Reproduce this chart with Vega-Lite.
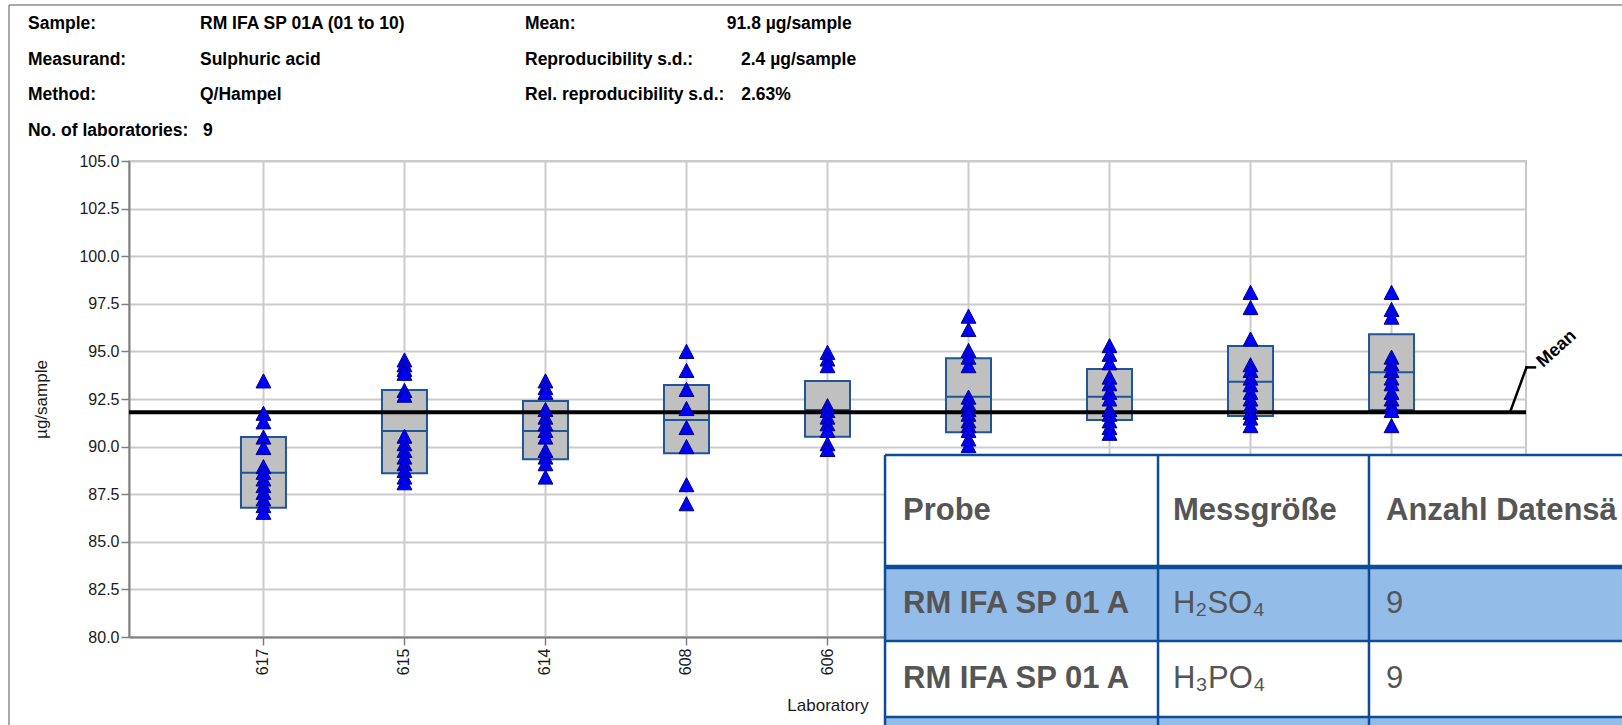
{
  "$schema": "https://vega.github.io/schema/vega-lite/v6.json",
  "usermeta": {"embedOptions": {"actions": false}},
  "width": 1397,
  "height": 476,
  "autosize": {"type": "none"},
  "padding": {"left": 129, "top": 161, "right": 96, "bottom": 88},
  "background": "#ffffff",
  "config": {
    "font": "Liberation Sans",
    "view": {"stroke": "#c8c8c8", "strokeWidth": 2},
    "axis": {
      "zindex": 0,
      "domainColor": "#7f7f7f", "domainWidth": 2,
      "tickColor": "#7f7f7f", "tickWidth": 1.5, "tickSize": 8,
      "gridColor": "#cccccc", "gridWidth": 2,
      "labelColor": "#1a1a1a", "labelFont": "Liberation Sans", "labelFontSize": 16,
      "titleFont": "Liberation Sans", "titleFontSize": 17, "titleFontWeight": "normal", "titleColor": "#1a1a1a"
    }
  },
  "datasets": {
    "boxes": [
      {"lab": "617", "q1": 86.79, "med": 88.63, "q3": 90.5},
      {"lab": "615", "q1": 88.6, "med": 90.82, "q3": 92.97},
      {"lab": "614", "q1": 89.33, "med": 90.82, "q3": 92.39},
      {"lab": "608", "q1": 89.65, "med": 91.4, "q3": 93.24},
      {"lab": "606", "q1": 90.52, "med": 91.92, "q3": 93.45},
      {"lab": "605", "q1": 90.75, "med": 92.62, "q3": 94.64},
      {"lab": "604", "q1": 91.4, "med": 92.62, "q3": 94.08},
      {"lab": "603", "q1": 91.61, "med": 93.41, "q3": 95.28},
      {"lab": "601", "q1": 91.92, "med": 93.9, "q3": 95.9}
    ],
    "points": [
      {"lab": "617", "value": 93.45}, {"lab": "617", "value": 91.75}, {"lab": "617", "value": 91.3}, {"lab": "617", "value": 90.5}, {"lab": "617", "value": 89.95}, {"lab": "617", "value": 88.95}, {"lab": "617", "value": 88.65}, {"lab": "617", "value": 88.3}, {"lab": "617", "value": 87.95}, {"lab": "617", "value": 87.6}, {"lab": "617", "value": 87.25}, {"lab": "617", "value": 86.9}, {"lab": "617", "value": 86.55},
      {"lab": "615", "value": 94.55}, {"lab": "615", "value": 94.3}, {"lab": "615", "value": 94.05}, {"lab": "615", "value": 93.85}, {"lab": "615", "value": 92.95}, {"lab": "615", "value": 92.7}, {"lab": "615", "value": 90.55}, {"lab": "615", "value": 90.15}, {"lab": "615", "value": 89.8}, {"lab": "615", "value": 89.45}, {"lab": "615", "value": 89.1}, {"lab": "615", "value": 88.75}, {"lab": "615", "value": 88.4}, {"lab": "615", "value": 88.1},
      {"lab": "614", "value": 93.45}, {"lab": "614", "value": 93.1}, {"lab": "614", "value": 92.85}, {"lab": "614", "value": 91.95}, {"lab": "614", "value": 91.55}, {"lab": "614", "value": 91.2}, {"lab": "614", "value": 90.85}, {"lab": "614", "value": 90.5}, {"lab": "614", "value": 89.8}, {"lab": "614", "value": 89.45}, {"lab": "614", "value": 89.1}, {"lab": "614", "value": 88.4},
      {"lab": "608", "value": 95.0}, {"lab": "608", "value": 94.0}, {"lab": "608", "value": 93.0}, {"lab": "608", "value": 92.0}, {"lab": "608", "value": 91.0}, {"lab": "608", "value": 90.0}, {"lab": "608", "value": 88.0}, {"lab": "608", "value": 87.0},
      {"lab": "606", "value": 94.95}, {"lab": "606", "value": 94.6}, {"lab": "606", "value": 94.25}, {"lab": "606", "value": 92.15}, {"lab": "606", "value": 91.9}, {"lab": "606", "value": 91.55}, {"lab": "606", "value": 91.2}, {"lab": "606", "value": 90.85}, {"lab": "606", "value": 90.15}, {"lab": "606", "value": 89.85},
      {"lab": "605", "value": 96.85}, {"lab": "605", "value": 96.15}, {"lab": "605", "value": 95.05}, {"lab": "605", "value": 94.7}, {"lab": "605", "value": 94.25}, {"lab": "605", "value": 92.6}, {"lab": "605", "value": 92.25}, {"lab": "605", "value": 91.95}, {"lab": "605", "value": 91.7}, {"lab": "605", "value": 91.35}, {"lab": "605", "value": 91.1}, {"lab": "605", "value": 90.85}, {"lab": "605", "value": 90.4}, {"lab": "605", "value": 90.05},
      {"lab": "604", "value": 95.3}, {"lab": "604", "value": 94.85}, {"lab": "604", "value": 94.4}, {"lab": "604", "value": 93.65}, {"lab": "604", "value": 93.3}, {"lab": "604", "value": 92.85}, {"lab": "604", "value": 92.5}, {"lab": "604", "value": 91.95}, {"lab": "604", "value": 91.7}, {"lab": "604", "value": 91.35}, {"lab": "604", "value": 91.0}, {"lab": "604", "value": 90.7},
      {"lab": "603", "value": 98.1}, {"lab": "603", "value": 97.3}, {"lab": "603", "value": 95.65}, {"lab": "603", "value": 94.3}, {"lab": "603", "value": 94.0}, {"lab": "603", "value": 93.6}, {"lab": "603", "value": 93.25}, {"lab": "603", "value": 92.85}, {"lab": "603", "value": 92.5}, {"lab": "603", "value": 92.15}, {"lab": "603", "value": 91.8}, {"lab": "603", "value": 91.5}, {"lab": "603", "value": 91.1},
      {"lab": "601", "value": 98.1}, {"lab": "601", "value": 97.2}, {"lab": "601", "value": 96.8}, {"lab": "601", "value": 94.7}, {"lab": "601", "value": 94.35}, {"lab": "601", "value": 94.0}, {"lab": "601", "value": 93.6}, {"lab": "601", "value": 93.3}, {"lab": "601", "value": 92.85}, {"lab": "601", "value": 92.5}, {"lab": "601", "value": 92.15}, {"lab": "601", "value": 91.9}, {"lab": "601", "value": 91.1}
    ],
    "header": [
      {"u": -1.67, "v": 112.22, "t": "Sample:"},
      {"u": -0.45, "v": 112.22, "t": "RM IFA SP 01A (01 to 10)"},
      {"u": 1.8547, "v": 112.22, "t": "Mean:"},
      {"u": 3.286, "v": 112.22, "t": "91.8 µg/sample"},
      {"u": -1.67, "v": 110.33, "t": "Measurand:"},
      {"u": -0.45, "v": 110.33, "t": "Sulphuric acid"},
      {"u": 1.8547, "v": 110.33, "t": "Reproducibility s.d.:"},
      {"u": 3.3865, "v": 110.33, "t": "2.4 µg/sample"},
      {"u": -1.67, "v": 108.47, "t": "Method:"},
      {"u": -0.45, "v": 108.47, "t": "Q/Hampel"},
      {"u": 1.8547, "v": 108.47, "t": "Rel. reproducibility s.d.:"},
      {"u": 3.388, "v": 108.47, "t": "2.63%"},
      {"u": -1.67, "v": 106.6, "t": "No. of laboratories:"},
      {"u": -0.4288, "v": 106.6, "t": "9"}
    ],
    "frame": [
      {"u": -1.8046, "u2": 11, "v": 113.19, "v2": 113.19},
      {"u": -1.8046, "u2": -1.8046, "v": 113.19, "v2": 70}
    ],
    "leader": [
      {"u": 8.84, "u2": 8.957, "v": 91.8, "v2": 94.16},
      {"u": 8.957, "u2": 9.017, "v": 94.16, "v2": 94.16}
    ],
    "tableBg": [
      {"u": 4.408, "u2": 11, "v": 89.56, "v2": 70}
    ],
    "tableRows": [
      {"u": 4.408, "u2": 11, "v": 83.68, "v2": 79.79},
      {"u": 4.408, "u2": 11, "v": 75.8, "v2": 70}
    ],
    "tableLines": [
      {"u": 4.408, "u2": 11, "v": 89.56, "v2": 89.56},
      {"u": 4.408, "u2": 11, "v": 79.79, "v2": 79.79},
      {"u": 4.408, "u2": 11, "v": 75.8, "v2": 75.8},
      {"u": 4.408, "u2": 4.408, "v": 89.56, "v2": 70},
      {"u": 6.344, "u2": 6.344, "v": 89.56, "v2": 70},
      {"u": 7.84, "u2": 7.84, "v": 89.56, "v2": 70}
    ],
    "tableThick": [
      {"u": 4.408, "u2": 11, "v": 83.68, "v2": 83.68}
    ],
    "tableBold": [
      {"u": 4.5355, "v": 86.62, "t": "Probe"},
      {"u": 6.4501, "v": 86.62, "t": "Messgröße"},
      {"u": 7.9607, "v": 86.62, "t": "Anzahl Datensä"},
      {"u": 4.5355, "v": 81.73, "t": "RM IFA SP 01 A"},
      {"u": 4.5355, "v": 77.79, "t": "RM IFA SP 01 A"}
    ],
    "tableRegular": [
      {"u": 6.4501, "v": 81.73, "t": "H₂SO₄"},
      {"u": 7.9607, "v": 81.73, "t": "9"},
      {"u": 6.4501, "v": 77.79, "t": "H₃PO₄"},
      {"u": 7.9607, "v": 77.79, "t": "9"}
    ]
  },
  "resolve": {
    "scale": {"x": "independent", "y": "independent"},
    "axis": {"x": "independent", "y": "independent"}
  },
  "layer": [
    {
      "layer": [
        {
          "data": {"name": "boxes"},
          "mark": {"type": "bar", "size": 45, "fill": "#c0c0c0", "stroke": "#1f5599", "strokeWidth": 2},
          "encoding": {
            "x": {
              "field": "lab", "type": "nominal",
              "sort": ["617", "615", "614", "608", "606", "605", "604", "603", "601"],
              "scale": {"type": "band", "paddingInner": 0, "paddingOuter": 0.4536},
              "title": "Laboratory",
              "axis": {"labelAngle": -90, "grid": true, "bandPosition": 0.5, "labelPadding": 3, "titlePadding": 23, "labelOverlap": false}
            },
            "y": {
              "field": "q1", "type": "quantitative",
              "scale": {"domain": [80, 105], "nice": false, "zero": false},
              "title": "µg/sample",
              "axis": {"values": [80, 82.5, 85, 87.5, 90, 92.5, 95, 97.5, 100, 102.5, 105], "format": ".1f", "grid": true, "labelPadding": 2, "titlePadding": 28, "labelOverlap": false}
            },
            "y2": {"field": "q3"}
          }
        },
        {
          "data": {"name": "boxes"},
          "mark": {"type": "tick", "size": 45, "thickness": 2, "color": "#1f5599", "opacity": 1},
          "encoding": {
            "x": {"field": "lab", "type": "nominal", "sort": ["617", "615", "614", "608", "606", "605", "604", "603", "601"]},
            "y": {"field": "med", "type": "quantitative"}
          }
        },
        {
          "data": {"values": [{"mean": 91.8}]},
          "mark": {"type": "rule", "color": "#000000", "strokeWidth": 4},
          "encoding": {"y": {"field": "mean", "type": "quantitative"}}
        },
        {
          "data": {"name": "points"},
          "mark": {"type": "point", "shape": "M0,-0.95L1,0.95L-1,0.95Z", "filled": true, "fill": "#0000ff", "stroke": "#000080", "strokeWidth": 1, "size": 220, "opacity": 1, "fillOpacity": 1},
          "encoding": {
            "x": {"field": "lab", "type": "nominal", "sort": ["617", "615", "614", "608", "606", "605", "604", "603", "601"]},
            "y": {"field": "value", "type": "quantitative"}
          }
        }
      ]
    },
    {
      "encoding": {
        "x": {"field": "u", "type": "quantitative", "scale": {"domain": [-0.9536, 8.9536], "nice": false, "zero": false}, "axis": null},
        "y": {"field": "v", "type": "quantitative", "scale": {"domain": [80, 105], "nice": false, "zero": false}, "axis": null}
      },
      "layer": [
        {
          "data": {"name": "frame"},
          "mark": {"type": "rule", "color": "#8c8c8c", "strokeWidth": 1.5},
          "encoding": {"x2": {"field": "u2"}, "y2": {"field": "v2"}}
        },
        {
          "data": {"name": "leader"},
          "mark": {"type": "rule", "color": "#000000", "strokeWidth": 2.5, "strokeCap": "square"},
          "encoding": {"x2": {"field": "u2"}, "y2": {"field": "v2"}}
        },
        {
          "data": {"values": [{"u": 9.0741, "v": 94.13, "t": "Mean"}]},
          "mark": {"type": "text", "angle": 318, "align": "left", "baseline": "alphabetic", "font": "Liberation Sans", "fontSize": 18, "fontWeight": "bold", "color": "#000000"},
          "encoding": {"text": {"field": "t"}}
        },
        {
          "data": {"name": "header"},
          "mark": {"type": "text", "align": "left", "baseline": "middle", "font": "Liberation Sans", "fontSize": 17.5, "fontWeight": "bold", "color": "#000000"},
          "encoding": {"text": {"field": "t"}}
        },
        {
          "data": {"name": "tableBg"},
          "mark": {"type": "rect", "color": "#ffffff"},
          "encoding": {"x2": {"field": "u2"}, "y2": {"field": "v2"}}
        },
        {
          "data": {"name": "tableRows"},
          "mark": {"type": "rect", "color": "#93bce8"},
          "encoding": {"x2": {"field": "u2"}, "y2": {"field": "v2"}}
        },
        {
          "data": {"name": "tableLines"},
          "mark": {"type": "rule", "color": "#0e4b98", "strokeWidth": 2.5},
          "encoding": {"x2": {"field": "u2"}, "y2": {"field": "v2"}}
        },
        {
          "data": {"name": "tableThick"},
          "mark": {"type": "rule", "color": "#0e4b98", "strokeWidth": 4.5},
          "encoding": {"x2": {"field": "u2"}, "y2": {"field": "v2"}}
        },
        {
          "data": {"name": "tableBold"},
          "mark": {"type": "text", "align": "left", "baseline": "middle", "font": "Liberation Sans", "fontSize": 31, "fontWeight": "bold", "color": "#555555"},
          "encoding": {"text": {"field": "t"}}
        },
        {
          "data": {"name": "tableRegular"},
          "mark": {"type": "text", "align": "left", "baseline": "middle", "font": "Liberation Sans", "fontSize": 31, "fontWeight": "normal", "color": "#555555"},
          "encoding": {"text": {"field": "t"}}
        }
      ]
    }
  ]
}
